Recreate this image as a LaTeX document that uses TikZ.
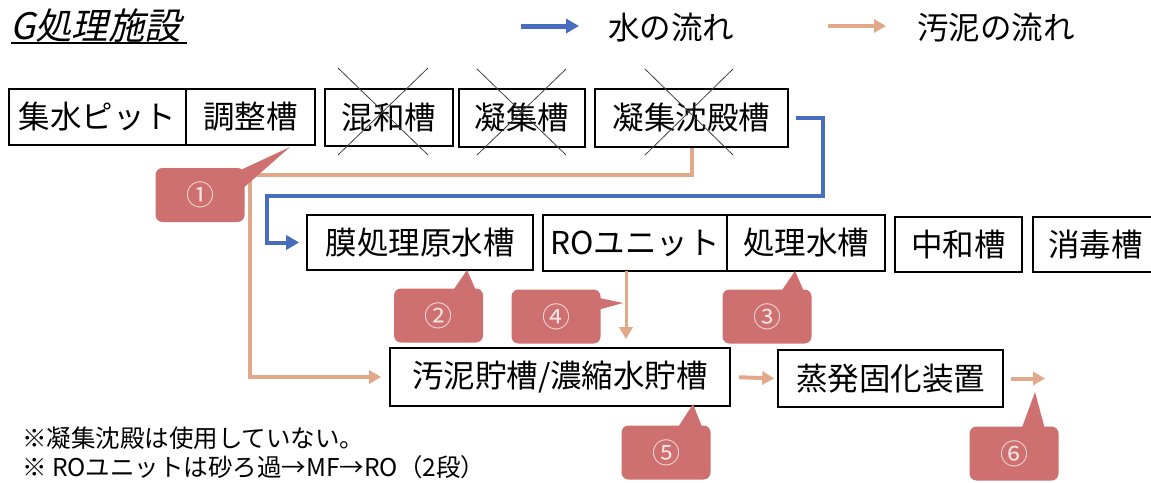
\documentclass[tikz,border=0pt]{standalone}
\usepackage{fontspec}
\setmainfont{Noto Sans CJK JP}
\newfontfamily\jpit[FakeSlant=0.22]{Noto Sans CJK JP}
\usetikzlibrary{arrows.meta}
\definecolor{waterblue}{RGB}{72,108,190}
\definecolor{sludgetan}{RGB}{226,168,138}
\definecolor{calloutred}{RGB}{206,112,112}
\definecolor{calloutnum}{RGB}{250,228,228}
\newcommand\tankbox[6]{\node[tank, minimum width={(#4-#2)*1pt}, minimum height={(#5-#3)*1pt}] (#1) at ({(#2+#4)/2},{(#3+#5)/2}) {#6};}
\begin{document}
\begin{tikzpicture}[x=1pt,y=-1pt,
 tank/.style={draw=black, line width=1.6pt, fill=white, inner sep=0pt, font=\fontsize{31.5}{36}\selectfont},
 water/.style={draw=waterblue, line width=4pt, -{Triangle[length=13pt,width=14pt]}},
 sludge/.style={draw=sludgetan, line width=4pt, -{Triangle[length=12pt,width=13pt]}},
 callout/.style={fill=calloutred, rounded corners=7pt, minimum width=89pt, minimum height=54pt, inner sep=0pt, text=calloutnum, font=\fontsize{28}{32}\selectfont},
 tail/.style={fill=calloutred},
 cross/.style={draw=black!75, line width=0.8pt},
 note/.style={font=\fontsize{24.5}{28}\selectfont, anchor=west, inner sep=0pt},
 legend/.style={font=\fontsize{31.5}{36}\selectfont, anchor=west, inner sep=0pt}
]
\useasboundingbox[fill=white] (0,0) rectangle (1151,482);

% title
\node[anchor=west, inner sep=0pt, font=\jpit\fontsize{36.5}{40}\selectfont] (title) at (10,26) {G処理施設};
\coordinate (tu1) at (11,43);
\coordinate (tu2) at (187,43);
\draw[line width=1.2pt] (tu1) -- (tu2);

% legend
\coordinate (lb1) at (521,26);
\coordinate (lb2) at (579,26);
\draw[water, line width=5pt] (lb1) -- (lb2);
\node[legend] (lgw) at (608,28) {水の流れ};
\coordinate (ls1) at (828,26);
\coordinate (ls2) at (886,26);
\draw[sludge] (ls1) -- (ls2);
\node[legend] (lgs) at (917,28) {汚泥の流れ};

% row 1
\tankbox{shuusui}{9}{89}{186}{145}{集水ピット}
\tankbox{chosei}{186}{89}{315}{145}{調整槽}
\tankbox{konwa}{325}{89}{453}{146}{混和槽}
\tankbox{gyoshu}{459}{89}{585}{147}{凝集槽}
\tankbox{gyochin}{595}{89}{788}{147}{凝集沈殿槽}

% crosses
\draw[cross] (338,68) -- (428,155);
\draw[cross] (428,68) -- (338,155);
\draw[cross] (477,69) -- (566,155);
\draw[cross] (566,69) -- (477,155);
\draw[cross] (645,69) -- (733,155);
\draw[cross] (733,69) -- (645,155);

% row 2
\tankbox{maku}{307}{215}{533}{270}{膜処理原水槽}
\tankbox{ro}{543}{215}{727}{271}{ROユニット}
\tankbox{shori}{727}{215}{885}{271}{処理水槽}
\tankbox{chuwa}{895}{217}{1022}{272}{中和槽}
\tankbox{shodoku}{1033}{217}{1158}{272}{消毒槽}

% row 3
\tankbox{sl}{390}{348}{730}{406}{汚泥貯槽/濃縮水貯槽}
\tankbox{ev}{778}{350}{1003}{407}{蒸発固化装置}

% water flow
\coordinate (b1) at (823,196);
\coordinate (b2) at (267,196);
\draw[water, shorten >=7pt] ([xshift=7pt]gyochin.east) -| (b1) -- (b2) |- (maku.west);

% sludge flow
\coordinate (s1) at (250,175);
\draw[sludge, shorten >=8pt] (gyochin.south) |- (s1) |- (sl.west);
\coordinate (r1) at (626,271);
\draw[sludge, line width=3pt, shorten >=8pt] (r1) -- (r1 |- sl.north);
\draw[sludge, shorten <=8pt, shorten >=3pt] (sl.east) -- (ev.west);
\coordinate (out) at (1045,378.5);
\draw[sludge, shorten <=7pt] (ev.east) -- (out);

% callouts
\fill[tail] (230,175) -- (290,147) -- (241,190) -- cycle;
\node[callout] (c1) at (200,195) {①};
\fill[tail] (450,295) -- (467,270) -- (478,295) -- cycle;
\node[callout] (c2) at (438.5,315.5) {②};
\fill[tail] (590,296) -- (623,303) -- (590,312) -- cycle;
\node[callout] (c4) at (556,316.5) {④};
\fill[tail] (778,296) -- (795,271) -- (806,296) -- cycle;
\node[callout] (c3) at (767,316.5) {③};
\fill[tail] (675,432) -- (693,404) -- (704,432) -- cycle;
\node[callout] (c5) at (666,452.5) {⑤};
\fill[tail] (1020,433) -- (1035,392) -- (1046,433) -- cycle;
\node[callout] (c6) at (1014,453.5) {⑥};

% notes
\node[note] (n1) at (22,438) {※凝集沈殿は使用していない。};
\node[note] (n2) at (22,467) {※ ROユニットは砂ろ過→MF→RO（2段）};
\end{tikzpicture}
\end{document}
